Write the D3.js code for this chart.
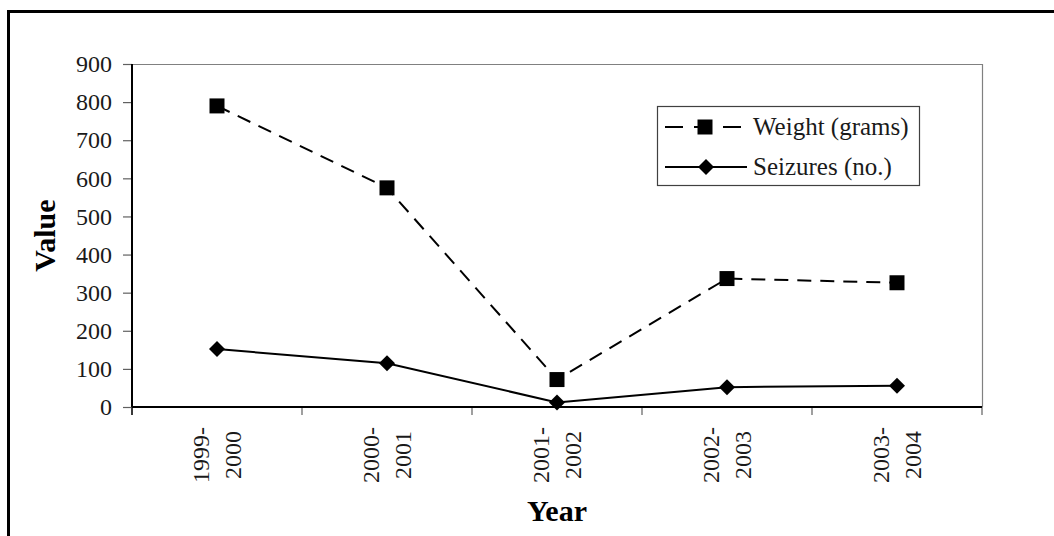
<!DOCTYPE html>
<html><head><meta charset="utf-8">
<script src="https://cdn.jsdelivr.net/npm/d3@7"></script>
<style>
html,body{margin:0;padding:0;background:#fff;}
svg{display:block;}
svg text{font-family:"Liberation Serif","Times New Roman",serif !important;}
</style></head>
<body><svg id="c" width="1054" height="536"></svg>
<script>
const categories = [["1999-","2000"],["2000-","2001"],["2001-","2002"],["2002-","2003"],["2003-","2004"]];
const weightValues = [790, 575, 72, 337, 326];
const seizureValues = [152, 115, 12, 52, 56];
const yTicks = [0,100,200,300,400,500,600,700,800,900];
const seriesNames = ["Weight (grams)", "Seizures (no.)"];

const svg = d3.select("#c");
const L = 132, R = 982, T = 64, B = 407;
const keys = categories.map(c => c.join(" "));
const x = d3.scaleBand().domain(keys).range([L, R]).padding(0);
const y = d3.scaleLinear().domain([0, 900]).range([B, T]);

// outer frame
svg.append("rect").attr("x", 8.5).attr("y", 11.5).attr("width", 1100).attr("height", 600)
  .attr("fill", "none").attr("stroke", "#000").attr("stroke-width", 3);

// plot frame top/right
svg.append("line").attr("x1", L).attr("x2", R).attr("y1", T+0.5).attr("y2", T+0.5).attr("stroke", "#808080").attr("stroke-width", 1.2);
svg.append("line").attr("x1", R+0.5).attr("x2", R+0.5).attr("y1", T).attr("y2", B).attr("stroke", "#808080").attr("stroke-width", 1.2);

// y axis
const yAxis = svg.append("g").attr("transform", `translate(${L},0)`)
  .call(d3.axisLeft(y).tickValues(yTicks).tickSize(9).tickPadding(11).tickSizeOuter(0));
yAxis.attr("font-family", null).attr("font-size", null);
yAxis.select(".domain").remove();
yAxis.selectAll(".tick line").attr("stroke", "#606060").attr("stroke-width", 1.2);
yAxis.selectAll(".tick text").attr("font-size", 24).attr("fill", "#1a1a1a");
svg.append("line").attr("x1", L).attr("x2", L).attr("y1", T).attr("y2", B + 8).attr("stroke", "#000").attr("stroke-width", 2);

// x axis
const tickPositions = keys.map(k => x(k)).concat([R]);
svg.append("g").selectAll("line").data(tickPositions).join("line")
  .attr("x1", d => d).attr("x2", d => d).attr("y1", B).attr("y2", B + 8)
  .attr("stroke", "#606060").attr("stroke-width", 1.2);
svg.append("line").attr("x1", L).attr("x2", R).attr("y1", B).attr("y2", B).attr("stroke", "#000").attr("stroke-width", 2);

const xl = svg.append("g");
categories.forEach((c, i) => {
  const cx = x(keys[i]) + x.bandwidth() / 2;
  c.forEach((line, j) => {
    const lx = cx + (j === 0 ? -16 : 16);
    xl.append("text").attr("transform", `translate(${lx + 8},455) rotate(-90)`)
      .attr("text-anchor", "middle").attr("font-size", 24).attr("fill", "#1a1a1a").text(line);
  });
});

// axis titles
svg.append("text").attr("transform", `translate(55,${(T+B)/2}) rotate(-90)`)
  .attr("text-anchor", "middle").attr("font-weight", "bold").attr("font-size", 30).text("Value");
svg.append("text").attr("x", (L+R)/2).attr("y", 521)
  .attr("text-anchor", "middle").attr("font-weight", "bold").attr("font-size", 30).text("Year");

// lines
const cxF = (d, i) => x(keys[i]) + x.bandwidth() / 2;
const lineGen = d3.line().x((d, i) => cxF(d, i)).y(d => y(d));
svg.append("path").datum(weightValues).attr("d", lineGen).attr("fill", "none")
  .attr("stroke", "#000").attr("stroke-width", 2).attr("stroke-dasharray", "14,9");
svg.append("path").datum(seizureValues).attr("d", lineGen).attr("fill", "none")
  .attr("stroke", "#000").attr("stroke-width", 2);

const sq = d3.symbol().type(d3.symbolSquare).size(225);
const dm = "M0,-8L8,0L0,8L-8,0Z";
svg.append("g").selectAll("path").data(weightValues).join("path")
  .attr("d", sq).attr("transform", (d, i) => `translate(${cxF(d,i)},${y(d)})`).attr("fill", "#000");
svg.append("g").selectAll("path").data(seizureValues).join("path")
  .attr("d", dm).attr("transform", (d, i) => `translate(${cxF(d,i)},${y(d)})`).attr("fill", "#000");

// legend
const lg = svg.append("g");
lg.append("rect").attr("x", 657.5).attr("y", 106.5).attr("width", 262).attr("height", 79)
  .attr("fill", "#fff").attr("stroke", "#404040").attr("stroke-width", 1.2);
lg.append("line").attr("x1", 665).attr("x2", 741).attr("y1", 127).attr("y2", 127)
  .attr("stroke", "#000").attr("stroke-width", 2).attr("stroke-dasharray", "18,11");
lg.append("path").attr("d", sq).attr("transform", "translate(705,127)").attr("fill", "#000");
lg.append("line").attr("x1", 665).attr("x2", 747).attr("y1", 167).attr("y2", 167)
  .attr("stroke", "#000").attr("stroke-width", 2);
lg.append("path").attr("d", dm).attr("transform", "translate(706,167)").attr("fill", "#000");
lg.append("text").attr("x", 753).attr("y", 135).attr("font-size", 25).attr("fill", "#1a1a1a").text(seriesNames[0]);
lg.append("text").attr("x", 753).attr("y", 175).attr("font-size", 25).attr("fill", "#1a1a1a").text(seriesNames[1]);
</script></body></html>
